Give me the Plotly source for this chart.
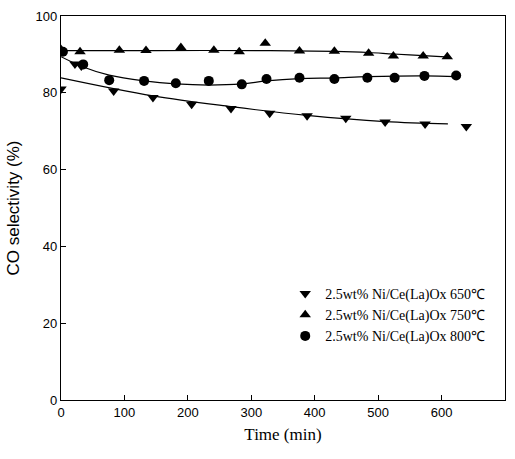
import plotly.graph_objects as go

# Data
t650 = [0, 22, 32, 83, 145, 206, 268, 329, 388, 449, 511, 574, 639]
v650 = [81.0, 87.5, 87.0, 80.5, 78.8, 77.0, 75.9, 74.7, 74.0, 73.4, 72.4, 71.9, 71.2]

t750 = [0, 30, 92, 134, 189, 241, 281, 322, 376, 431, 485, 524, 571, 609]
v750 = [91.3, 90.7, 91.1, 91.0, 91.8, 91.1, 90.7, 92.9, 90.9, 90.8, 90.3, 89.6, 89.6, 89.4]

t800 = [3, 35, 76, 131, 181, 233, 285, 324, 376, 431, 483, 526, 573, 623]
v800 = [90.7, 87.4, 83.3, 83.1, 82.5, 83.1, 82.2, 83.6, 83.9, 83.6, 83.9, 83.9, 84.4, 84.5]

# Fitted trend curves
ct650 = [0, 145, 268, 388, 511, 610]
cv650 = [83.9, 79.2, 76.4, 74.1, 72.5, 71.9]
ct750 = [0, 150, 330, 431, 485, 524, 571, 613]
cv750 = [91.0, 91.0, 91.0, 90.8, 90.5, 90.1, 89.7, 89.3]
ct800 = [0, 34, 76, 131, 181, 233, 285, 324, 376, 431, 483, 573, 624]
cv800 = [89.4, 86.8, 84.6, 83.1, 82.3, 82.0, 82.3, 83.1, 83.7, 83.9, 84.2, 84.4, 84.2]

labels = ["2.5wt% Ni/Ce(La)Ox 650\u2103", "2.5wt% Ni/Ce(La)Ox 750\u2103", "2.5wt% Ni/Ce(La)Ox 800\u2103"]

fig = go.Figure()
for ct, cv in [(ct650, cv650), (ct750, cv750), (ct800, cv800)]:
    fig.add_trace(go.Scatter(x=ct, y=cv, mode="lines", line=dict(color="black", width=1.2, shape="spline"),
                             showlegend=False, hoverinfo="skip"))

fig.add_trace(go.Scatter(x=t650, y=v650, mode="markers", name=labels[0],
                         marker=dict(symbol="triangle-down", size=10, color="black")))
fig.add_trace(go.Scatter(x=t750, y=v750, mode="markers", name=labels[1],
                         marker=dict(symbol="triangle-up", size=10, color="black")))
fig.add_trace(go.Scatter(x=t800, y=v800, mode="markers", name=labels[2],
                         marker=dict(symbol="circle", size=10, color="black")))

fig.update_layout(
    width=515, height=459,
    margin=dict(l=61, r=10, t=16, b=59),
    paper_bgcolor="white", plot_bgcolor="white",
    showlegend=True,
    legend=dict(x=0.505, y=0.318, xanchor="left", yanchor="top",
                bgcolor="rgba(0,0,0,0)", borderwidth=0,
                font=dict(family="Liberation Serif", size=14, color="black"),
                tracegroupgap=0),
    font=dict(family="Liberation Sans", color="black"),
)
fig.update_xaxes(range=[0, 700], tickvals=[0, 100, 200, 300, 400, 500, 600, 700],
                 ticks="inside", ticklen=5, tickcolor="black",
                 showline=True, linecolor="black", linewidth=1.2, mirror=True,
                 showgrid=False, zeroline=False,
                 tickfont=dict(family="Liberation Sans", size=13),
                 title=dict(text="Time (min)", font=dict(family="Liberation Serif", size=17), standoff=9))
fig.update_yaxes(range=[0, 100], tickvals=[0, 20, 40, 60, 80, 100],
                 ticks="inside", ticklen=5, tickcolor="black",
                 showline=True, linecolor="black", linewidth=1.2, mirror=True,
                 showgrid=False, zeroline=False,
                 tickfont=dict(family="Liberation Sans", size=13),
                 title=dict(text="CO selectivity (%)", font=dict(family="Liberation Sans", size=17), standoff=11))

fig.write_html("out.html")
